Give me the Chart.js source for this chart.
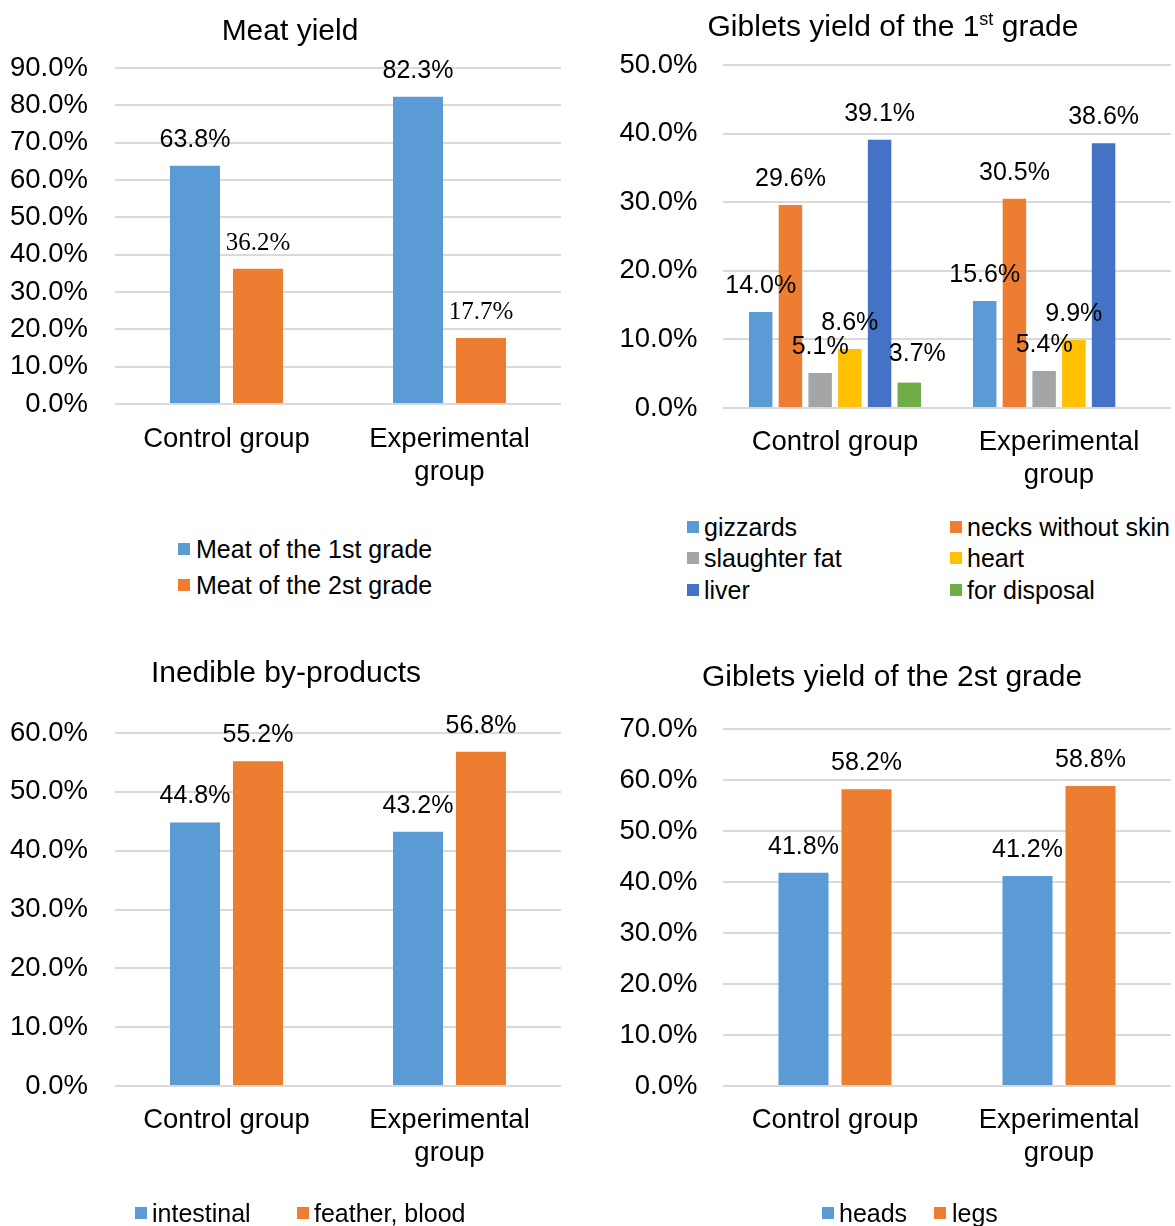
<!DOCTYPE html>
<html>
<head>
<meta charset="utf-8">
<script src="https://cdn.jsdelivr.net/npm/chart.js@4.4.1/dist/chart.umd.min.js"></script>
<style>
html,body{margin:0;padding:0;background:#fff;}
#page{position:relative;width:1175px;height:1226px;overflow:hidden;font-family:"Liberation Sans",Arial,sans-serif;color:#000;}
canvas{position:absolute;}
.title{position:absolute;white-space:nowrap;font-size:30px;line-height:30px;transform:translateX(-50%);}
.title sup{font-size:0.6em;line-height:0;vertical-align:0.6em;}
.leg{position:absolute;display:flex;align-items:center;height:26px;font-size:25px;line-height:26px;white-space:nowrap;}
.sw{width:12px;height:12px;flex:none;}
</style>
</head>
<body>
<div id="page">
  <canvas id="c1"></canvas>
  <canvas id="c2"></canvas>
  <canvas id="c3"></canvas>
  <canvas id="c4"></canvas>
</div>
<script>
// ---------- data ----------
const categories = [["Control group"], ["Experimental", "group"]];

const meatFirstGrade  = [63.8, 82.3];
const meatSecondGrade = [36.2, 17.7];

const gizzards     = [14.0, 15.6];
const necks        = [29.6, 30.5];
const slaughterFat = [5.1, 5.4];
const heart        = [8.6, 9.9];
const liver        = [39.1, 38.6];
const forDisposal  = [3.7, null];

const intestinal   = [44.8, 43.2];
const featherBlood = [55.2, 56.8];

const heads = [41.8, 41.2];
const legs  = [58.2, 58.8];

const yMaxMeat = 90, yMaxGiblets1 = 50, yMaxInedible = 60, yMaxGiblets2 = 70;

// ---------- styling ----------
const FONT = '"Liberation Sans", Arial, sans-serif';
const SERIF = '"Liberation Serif", "Times New Roman", serif';
const BLUE = '#5B9BD5', ORANGE = '#ED7D31', GRAY = '#A5A5A5', GOLD = '#FFC000', DBLUE = '#4472C4', GREEN = '#70AD47';

const valueLabels = {
  id: 'valueLabels',
  afterDatasetsDraw(chart) {
    const ctx = chart.ctx;
    chart.data.datasets.forEach((ds, i) => {
      const meta = chart.getDatasetMeta(i);
      meta.data.forEach((bar, j) => {
        const v = ds.data[j];
        if (v === null || v === undefined) return;
        ctx.save();
        ctx.font = '25px ' + (ds.labelFamily || FONT);
        ctx.fillStyle = '#000';
        ctx.textAlign = 'center';
        ctx.textBaseline = 'alphabetic';
        ctx.fillText(v.toFixed(1) + '%', bar.x + (ds.labelDx || 0), bar.y - 19 - (ds.labelDy || 0));
        ctx.restore();
      });
    });
  }
};

function build(id, box, plot, yMax, series, cp, bp, yPad, xPad) {
  const cv = document.getElementById(id);
  cv.width = box.w; cv.height = box.h;
  cv.style.left = box.x + 'px'; cv.style.top = box.y + 'px';
  cv.style.width = box.w + 'px'; cv.style.height = box.h + 'px';
  new Chart(cv, {
    type: 'bar',
    data: {
      labels: categories,
      datasets: series.map(s => ({
        label: s.label, data: s.data, backgroundColor: s.color, borderWidth: 0,
        categoryPercentage: cp, barPercentage: bp, labelFamily: s.family,
        labelDx: s.dx, labelDy: s.dy
      }))
    },
    options: {
      responsive: false, animation: false, devicePixelRatio: 1,
      layout: { padding: { left: 0, top: plot.top - box.y, right: box.x + box.w - plot.right, bottom: 0 } },
      plugins: { legend: { display: false }, title: { display: false }, tooltip: { enabled: false } },
      scales: {
        x: {
          grid: { display: false }, border: { display: false },
          ticks: { font: { family: FONT, size: 27.5, lineHeight: 1.2 }, color: '#000', padding: xPad,
                   maxRotation: 0, minRotation: 0, autoSkip: false },
          afterFit: s => { s.height = box.y + box.h - plot.bottom; }
        },
        y: {
          min: 0, max: yMax,
          grid: { color: '#d9d9d9', lineWidth: 2, drawTicks: false }, border: { display: false },
          ticks: { stepSize: 10, font: { family: FONT, size: 27.5 }, color: '#000', padding: yPad,
                   callback: v => v.toFixed(1) + '%' },
          afterFit: s => { s.width = plot.left - box.x; }
        }
      }
    },
    plugins: [valueLabels]
  });
}

build('c1', {x: 0, y: 0, w: 590, h: 500}, {left: 115, right: 561, top: 68, bottom: 404}, yMaxMeat, [
  {label: 'Meat of the 1st grade', data: meatFirstGrade, color: BLUE},
  {label: 'Meat of the 2st grade', data: meatSecondGrade, color: ORANGE, family: SERIF}
], 0.565, 0.794, 27, 11);

build('c2', {x: 590, y: 0, w: 585, h: 500}, {left: 723, right: 1171, top: 65, bottom: 408}, yMaxGiblets1, [
  {label: 'gizzards', data: gizzards, color: BLUE},
  {label: 'necks without skin', data: necks, color: ORANGE},
  {label: 'slaughter fat', data: slaughterFat, color: GRAY},
  {label: 'heart', data: heart, color: GOLD},
  {label: 'liver', data: liver, color: DBLUE},
  {label: 'for disposal', data: forDisposal, color: GREEN, dx: 8, dy: 3}
], 0.796, 0.79, 25.5, 10);

build('c3', {x: 0, y: 620, w: 590, h: 606}, {left: 115, right: 561, top: 733, bottom: 1086}, yMaxInedible, [
  {label: 'intestinal', data: intestinal, color: BLUE},
  {label: 'feather, blood', data: featherBlood, color: ORANGE}
], 0.565, 0.794, 27, 10);

build('c4', {x: 590, y: 620, w: 585, h: 606}, {left: 723, right: 1171, top: 729, bottom: 1086}, yMaxGiblets2, [
  {label: 'heads', data: heads, color: BLUE},
  {label: 'legs', data: legs, color: ORANGE}
], 0.5625, 0.794, 25.5, 10);

// ---------- titles & legends (HTML text) ----------
const page = document.getElementById('page');
function title(html, cx, baseline) {
  const d = document.createElement('div');
  d.className = 'title';
  d.innerHTML = html;
  d.style.left = cx + 'px';
  d.style.top = (baseline - 0.8465 * 30) + 'px';
  page.appendChild(d);
}
function legend(text, color, sqLeft, textLeft, cy) {
  const d = document.createElement('div');
  d.className = 'leg';
  d.style.left = sqLeft + 'px';
  d.style.top = (cy - 13) + 'px';
  const sw = document.createElement('span');
  sw.className = 'sw'; sw.style.background = color;
  sw.style.marginRight = (textLeft - sqLeft - 12) + 'px';
  const t = document.createElement('span');
  t.textContent = text;
  d.appendChild(sw); d.appendChild(t);
  page.appendChild(d);
}

title('Meat yield', 290, 40.5);
title('Giblets yield of the 1<sup>st</sup> grade', 893, 36);
title('Inedible by-products', 286, 682);
title('Giblets yield of the 2st grade', 892, 686);

legend('Meat of the 1st grade', BLUE, 178, 196, 549);
legend('Meat of the 2st grade', ORANGE, 178, 196, 585);

legend('gizzards', BLUE, 687, 704, 526.5);
legend('necks without skin', ORANGE, 950, 967, 526.5);
legend('slaughter fat', GRAY, 687, 704, 558);
legend('heart', GOLD, 950, 967, 558);
legend('liver', DBLUE, 687, 704, 589.5);
legend('for disposal', GREEN, 950, 967, 589.5);

legend('intestinal', BLUE, 135, 152, 1213);
legend('feather, blood', ORANGE, 297, 314, 1213);

legend('heads', BLUE, 822, 839, 1213);
legend('legs', ORANGE, 934, 952, 1213);
</script>
</body>
</html>
